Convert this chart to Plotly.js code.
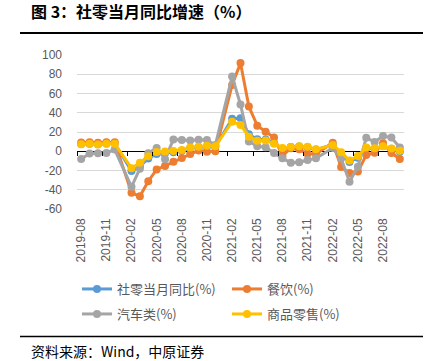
<!DOCTYPE html>
<html>
<head>
<meta charset="utf-8">
<script src="https://cdn.plot.ly/plotly-3.0.1.min.js"></script>
<style>html,body{margin:0;padding:0;background:#fff;}#chart{width:432px;height:361px;}</style>
</head>
<body>
<div id="chart"></div>
<script>
var months = ['2019-08','2019-09','2019-10','2019-11','2019-12',
  '2020-01','2020-02','2020-03','2020-04','2020-05','2020-06','2020-07','2020-08','2020-09','2020-10','2020-11','2020-12',
  '2021-01','2021-02','2021-03','2021-04','2021-05','2021-06','2021-07','2021-08','2021-09','2021-10','2021-11','2021-12',
  '2022-01','2022-02','2022-03','2022-04','2022-05','2022-06','2022-07','2022-08','2022-09','2022-10'];
var totalRetail = [7.5,7.8,7.2,8.0,8.0,
  null,-20.5,-15.8,-7.5,-2.8,-1.8,-1.1,0.5,3.3,4.3,5.0,4.6,
  null,33.8,34.2,17.7,12.4,12.1,8.5,2.5,4.4,4.9,3.9,1.7,
  null,6.7,-3.5,-11.1,-6.7,3.1,2.7,5.4,2.5,-0.5];
var catering = [9.0,9.4,8.8,9.4,9.4,
  null,-43.1,-46.8,-31.1,-18.9,-15.2,-11.0,-7.0,-2.9,0.8,-0.6,-0.1,
  null,68.9,91.6,46.4,26.6,20.2,14.3,-4.5,3.1,2.0,-2.7,-2.8,
  null,8.9,-16.4,-22.7,-21.1,-4.0,-1.5,8.4,-1.7,-8.1];
var autos = [-8.1,-2.3,-2.0,-1.8,1.8,
  null,-37.0,-18.1,-2.1,3.5,-8.2,12.3,11.8,11.2,12.0,11.8,6.4,
  null,77.6,48.6,10.1,5.3,4.2,-1.8,-7.4,-11.9,-11.5,-9.1,-7.4,
  null,3.3,-7.5,-31.6,-16.0,13.9,9.7,15.9,14.2,3.9];
var goods = [7.4,7.8,7.1,7.9,7.9,
  null,-17.6,-12.0,-5.1,-0.8,-0.2,0.2,1.4,3.9,4.7,5.8,5.2,
  null,30.7,27.4,15.1,10.9,11.1,7.9,3.3,4.5,5.2,4.8,2.0,
  null,6.5,-1.0,-9.7,-5.0,3.9,3.2,5.1,2.9,0.5];
var seriesNames = ['社零当月同比(%)','餐饮(%)','汽车类(%)','商品零售(%)'];
var xTickLabels = ['2019-08','2019-11','2020-02','2020-05','2020-08','2020-11','2021-02','2021-05','2021-08','2021-11','2022-02','2022-05','2022-08'];
var yTickValues = [-60,-40,-20,0,20,40,60,80,100];
var yTickLabels = ['-60','-40','-20','0','20','40','60','80','100'];

var colors = ['#5B9BD5','#ED7D31','#A5A5A5','#FFC000'];
var seriesData = [totalRetail, catering, autos, goods];
var legends = ['legend','legend','legend2','legend2'];
var traces = seriesData.map(function(vals, i){
  return {
    type:'scatter', mode:'lines+markers', x: months, y: vals, name: seriesNames[i],
    connectgaps:true, line:{color:colors[i], width:3}, marker:{color:colors[i], size:8},
    legend: legends[i], hoverinfo:'skip'
  };
});
// boundary tick marks along the zero line (every 3 months)
var boundaryTicks = [];
for (var k = 0; k < months.length; k += 3) { boundaryTicks.push(k - 0.5); }
traces.push({type:'scatter', x:[], y:[], xaxis:'x2', showlegend:false, hoverinfo:'skip'});

var labelFont = {family:'Liberation Sans, Arial, sans-serif', size:12, color:'#595959'};
var cjk = 'Noto Sans CJK SC, sans-serif';
var layout = {
  width:432, height:361,
  margin:{l:77, r:28, t:55, b:152},
  paper_bgcolor:'#fff', plot_bgcolor:'#fff',
  showlegend:true,
  title:{text:'<b>图 3：社零当月同比增速（%）</b>', font:{family:cjk, size:16, color:'#000'},
    x:31/432, xref:'container', xanchor:'left', y:1-12/361, yref:'container', yanchor:'middle'},
  xaxis:{type:'category', categoryorder:'array', categoryarray:months, range:[-0.5, months.length-0.5],
    tickmode:'array', tickvals:xTickLabels, ticktext:xTickLabels, tickangle:-90,
    tickfont:labelFont, showgrid:false, zeroline:false, showline:false, ticks:'', ticklabelstandoff:6},
  xaxis2:{overlaying:'x', anchor:'free', position:0.375, type:'linear', range:[-0.5, months.length-0.5],
    tickmode:'array', tickvals:boundaryTicks, ticks:'outside', ticklen:4, tickcolor:'#000', tickwidth:1,
    showticklabels:false, showgrid:false, zeroline:false, showline:false, side:'bottom'},
  yaxis:{range:[-60,100], tickmode:'array', tickvals:yTickValues, ticktext:yTickLabels,
    tickfont:labelFont, showgrid:true, gridcolor:'#D9D9D9', gridwidth:1,
    zeroline:true, zerolinecolor:'#000', zerolinewidth:1, showline:false, ticks:'', ticklabelstandoff:14},
  legend:{orientation:'h', x:0, xanchor:'left', y:(209-289)/154, yanchor:'middle',
    font:{family:cjk, size:13, color:'#595959'}, entrywidth:105, entrywidthmode:'pixels', bgcolor:'rgba(0,0,0,0)'},
  legend2:{orientation:'h', x:0, xanchor:'left', y:(209-314)/154, yanchor:'middle',
    font:{family:cjk, size:13, color:'#595959'}, entrywidth:105, entrywidthmode:'pixels', bgcolor:'rgba(0,0,0,0)'},
  shapes:[
    {type:'line', xref:'paper', yref:'paper', x0:(20-77)/327, x1:(423-77)/327, y0:(209-33)/154, y1:(209-33)/154, line:{color:'#000', width:2}},
    {type:'line', xref:'paper', yref:'paper', x0:(20-77)/327, x1:(423-77)/327, y0:(209-336.5)/154, y1:(209-336.5)/154, line:{color:'#000', width:1.5}}
  ],
  annotations:[
    {text:'资料来源：Wind，中原证券', xref:'paper', yref:'paper', x:(29-77)/327, y:(209-351)/154,
     xanchor:'left', yanchor:'middle', showarrow:false, font:{family:cjk, size:14, color:'#000'}}
  ]
};
Plotly.newPlot('chart', traces, layout, {staticPlot:true, displayModeBar:false});
</script>
</body>
</html>
